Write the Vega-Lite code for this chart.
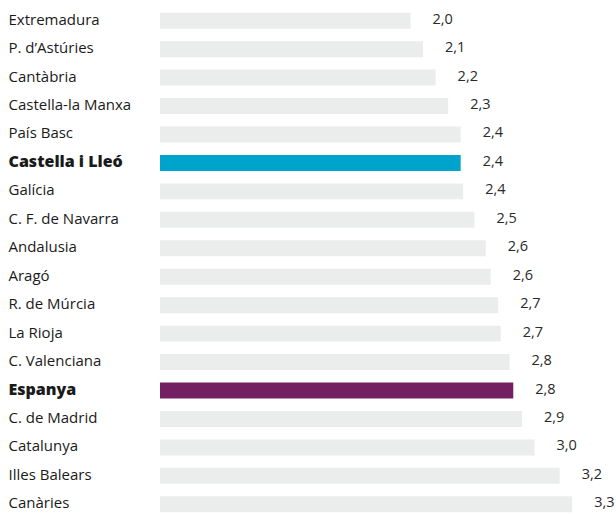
{
  "$schema": "https://vega.github.io/schema/vega-lite/v6.json",
  "width": 456,
  "height": 511,
  "autosize": "none",
  "padding": {"left": 160, "top": 7, "right": 0, "bottom": 0},
  "config": {
    "view": {"stroke": null},
    "font": "Open Sans",
    "locale": {"number": {"decimal": ",", "thousands": ".", "grouping": [3], "currency": ["", " €"]}}
  },
  "data": {
    "values": [
      {"region": "Extremadura", "value": 2.0},
      {"region": "P. d’Astúries", "value": 2.1},
      {"region": "Cantàbria", "value": 2.2},
      {"region": "Castella-la Manxa", "value": 2.3},
      {"region": "País Basc", "value": 2.4},
      {"region": "Castella i Lleó", "value": 2.4},
      {"region": "Galícia", "value": 2.42},
      {"region": "C. F. de Navarra", "value": 2.51},
      {"region": "Andalusia", "value": 2.6},
      {"region": "Aragó", "value": 2.64},
      {"region": "R. de Múrcia", "value": 2.7},
      {"region": "La Rioja", "value": 2.72},
      {"region": "C. Valenciana", "value": 2.79},
      {"region": "Espanya", "value": 2.82},
      {"region": "C. de Madrid", "value": 2.89},
      {"region": "Catalunya", "value": 2.99},
      {"region": "Illes Balears", "value": 3.19},
      {"region": "Canàries", "value": 3.29}
    ]
  },
  "encoding": {
    "y": {
      "field": "region",
      "type": "nominal",
      "sort": null,
      "scale": {"paddingInner": 0.438, "paddingOuter": 0.2},
      "axis": {
        "title": null,
        "domain": false,
        "ticks": false,
        "labelAlign": "left",
        "labelPadding": 152,
        "labelFont": "Open Sans",
        "labelColor": "#1a1a1a",
        "labelLimit": 0,
        "labelOffset": -1,
        "labelFontSize": {
          "condition": {"test": "datum.value === 'Castella i Lleó' || datum.value === 'Espanya'", "value": 16},
          "value": 15
        },
        "labelFontWeight": {
          "condition": {"test": "datum.value === 'Castella i Lleó' || datum.value === 'Espanya'", "value": 800},
          "value": "normal"
        }
      }
    }
  },
  "layer": [
    {
      "mark": {"type": "bar"},
      "encoding": {
        "x": {"field": "value", "type": "quantitative", "scale": {"domain": [0, 3.64], "nice": false}, "axis": null},
        "color": {
          "condition": [
            {"test": "datum.region === 'Castella i Lleó'", "value": "#00a3cb"},
            {"test": "datum.region === 'Espanya'", "value": "#722062"}
          ],
          "value": "#ebecec"
        }
      }
    },
    {
      "mark": {"type": "text", "align": "left", "baseline": "middle", "dx": 22, "dy": -1, "fontSize": 14.5, "font": "Open Sans", "color": "#2a2a2a"},
      "encoding": {
        "x": {"field": "value", "type": "quantitative"},
        "text": {"field": "value", "type": "quantitative", "format": ".1f"}
      }
    }
  ]
}
